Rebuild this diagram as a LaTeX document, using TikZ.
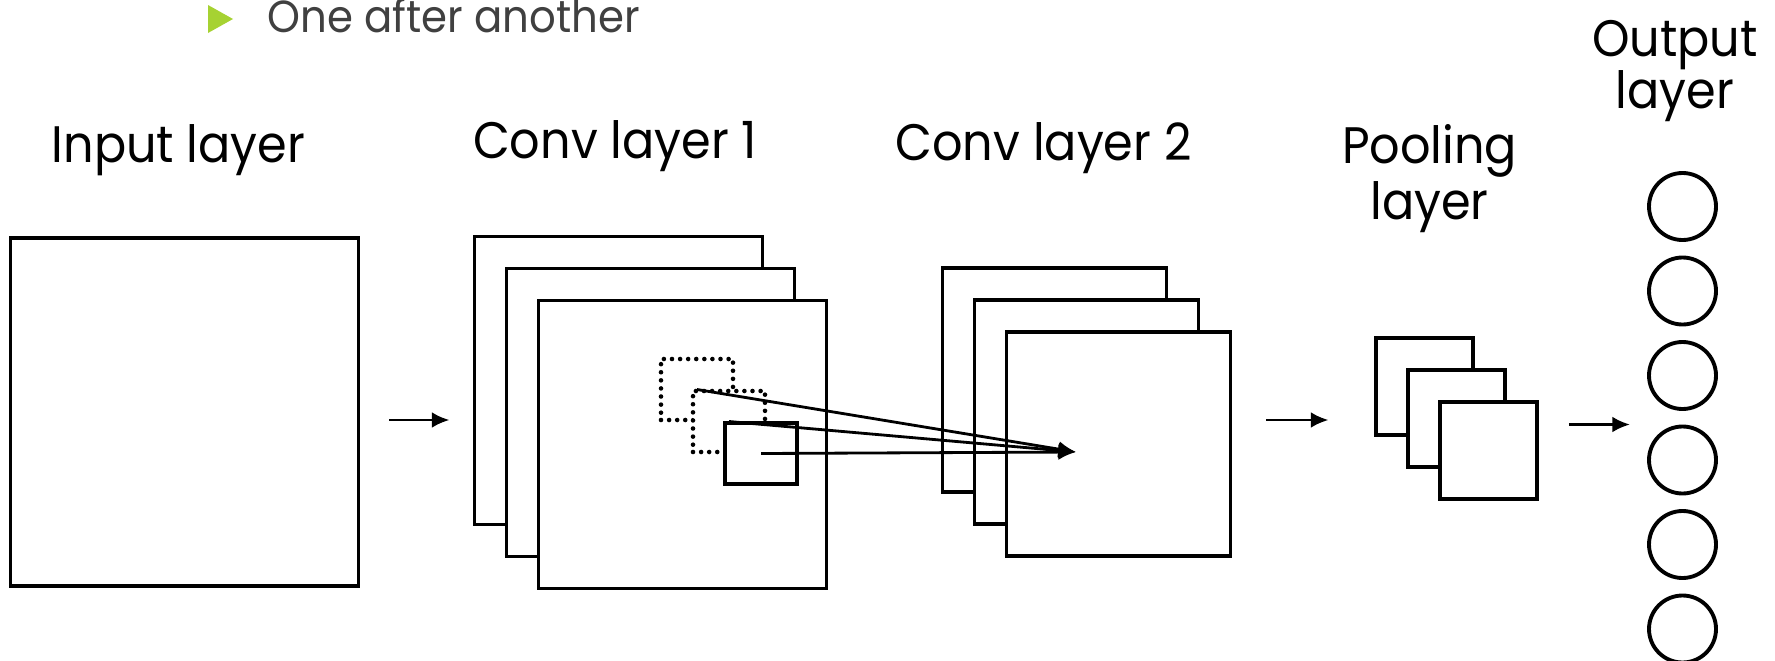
\documentclass[tikz,border=0pt]{standalone}
\usepackage{fontspec}
\setmainfont{Poppins}[FakeStretch=0.93]
\usetikzlibrary{positioning, arrows.meta}

\definecolor{bulletgreen}{HTML}{A6D232}
\definecolor{textgray}{HTML}{404040}

\tikzset{
    fmap/.style={draw, fill=white, line width=1.1pt, minimum size=#1, inner sep=0pt},
    patch/.style={draw, fill=white, line width=1.1pt, minimum width=0.72cm, minimum height=0.61cm, inner sep=0pt},
    dotpatch/.style={patch, line width=1.3pt, line cap=round, dash pattern=on 0pt off 2.3pt},
    neuron/.style={draw, circle, line width=1.1pt, minimum size=0.67cm, inner sep=0pt},
    flow/.style={-{Latex[length=5pt,width=4.5pt]}, line width=0.8pt},
    lname/.style={anchor=base, align=center, inner sep=0pt, font=\fontsize{14.6}{14.6}\selectfont}
}

\begin{document}
\begin{tikzpicture}[node distance=0.32cm and 0.32cm, on grid]
    \useasboundingbox (0,0) rectangle (17.75,-6.61);

    % bullet line at the top
    \fill[bulletgreen] (2.08,-0.05) -- (2.33,-0.19) -- (2.08,-0.33) -- cycle;
    \node[anchor=base west, inner sep=0pt, text=textgray, font=\fontsize{12.8}{14}\selectfont]
        (head) at (2.67,-0.33) {One after another};

    % layers
    \node[fmap=3.48cm] (inp) at (1.845,-4.12) {};

    \node[fmap=2.88cm] (c1a) at (6.185,-3.805) {};
    \node[fmap=2.88cm, below right=of c1a] (c1b) {};
    \node[fmap=2.88cm, below right=of c1b] (c1c) {};

    \node[dotpatch] (p1) at (6.97,-3.895) {};
    \node[dotpatch, below right=of p1] (p2) {};
    \node[patch, below right=of p2] (p3) {};

    \node[fmap=2.24cm] (c2a) at (10.545,-3.80) {};
    \node[fmap=2.24cm, below right=of c2a] (c2b) {};
    \node[fmap=2.24cm, below right=of c2b] (c2c) {};

    \node[fmap=0.97cm] (pl1) at (14.245,-3.865) {};
    \node[fmap=0.97cm, below right=of pl1] (pl2) {};
    \node[fmap=0.97cm, below right=of pl2] (pl3) {};

    \foreach \i in {0,...,5}
        \node[neuron] (o\i) at (16.825,{-2.065-0.845*\i}) {};

    % layer names (base = last line)
    \node[lname] (tin)  at (1.785,-1.62)  {Input layer};
    \node[lname] (tc1)  at (6.15,-1.58)   {Conv layer 1};
    \node[lname] (tc2)  at (10.435,-1.60) {Conv layer 2};
    \node[lname] (tpl)  at (14.295,-2.19) {Pooling\\layer};
    \node[lname] (tout) at (16.75,-1.08)  {Output\\layer};

    % receptive fields into one unit of the next map
    \coordinate (unit) at (10.76,-4.52);
    \draw[flow] (p1.center) -- (unit);
    \draw[flow] (p2.center) -- (unit);
    \draw[flow] (p3.center) -- (unit);

    % between layers
    \draw[flow] ([xshift=0.29cm,yshift=-0.08cm]inp.east) -- ++(0.6,0);
    \draw[flow] ([xshift=0.34cm,yshift=0.24cm]c2c.east) -- ++(0.62,0);
    \draw[flow] ([xshift=0.30cm,yshift=0.26cm]pl3.east) -- ++(0.61,0);
\end{tikzpicture}
\end{document}
